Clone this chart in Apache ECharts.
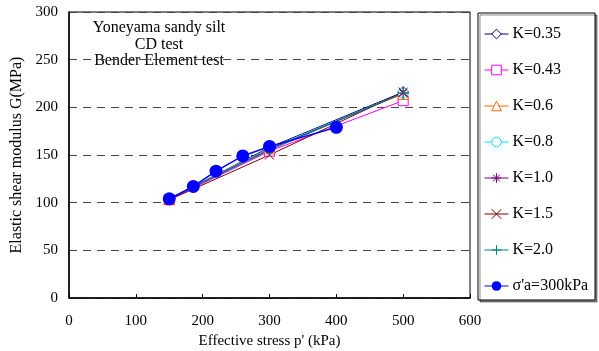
<!DOCTYPE html>
<html>
<head>
<meta charset="utf-8">
<script src="https://cdn.jsdelivr.net/npm/echarts@6/dist/echarts.min.js"></script>
<style>
  html, body { margin: 0; padding: 0; background: #fff; }
  #main { width: 599px; height: 351px; }
</style>
</head>
<body>
<div id="main"></div>
<script>
// K-series share the same stress levels
const kStress = [150, 300, 500];
const k035 = [104, 158, 216];
const k043 = [103, 154, 207];
const k06 = [104, 157, 214];
const k08 = [104, 157, 215];
const k10 = [104, 156, 215];
const k15 = [103, 150, 216];
const k20 = [104, 155, 215];

const saStress = [150, 186, 220, 260, 300, 400];
const sa300 = [104, 117, 133, 149, 159, 179];

const noteLines = ["Yoneyama sandy silt", "CD test", "Bender Element test"];

const serif = "Liberation Serif";

const asterisk = "path://M5 0L5 10M0 5L10 5M1.5 1.5L8.5 8.5M8.5 1.5L1.5 8.5";
const cross = "path://M0 0L10 10M10 0L0 10";
const plus = "path://M5 0L5 10M0 5L10 5";

function pairs(xs, ys) {
  return xs.map((x, i) => [x, ys[i]]);
}

function kSeries(name, color, ys, symbol, size) {
  return {
    name: name,
    type: "line",
    data: pairs(kStress, ys),
    symbol: symbol,
    symbolSize: size,
    color: color,
    lineStyle: { color: color, width: 1 },
    itemStyle: { color: "#fff", borderColor: color, borderWidth: 1 },
    emphasis: { disabled: true },
    z: 3
  };
}

const chart = echarts.init(document.getElementById("main"));

const notes = noteLines.map((t, i) => ({
  type: "text",
  x: 159,
  y: 28 + i * 16.5,
  style: { text: t, font: "16px " + serif, fill: "#000", align: "center", verticalAlign: "middle" }
}));

chart.setOption({
  animation: false,
  textStyle: { fontFamily: serif },
  grid: { left: 69, right: 129, top: 12, bottom: 53, outerBoundsMode: "none", show: true, borderColor: "#000", borderWidth: 1 },
  legend: {
    orient: "vertical",
    left: 480,
    top: 21,
    padding: [5, 4, 5, 4],
    itemGap: 20,
    itemWidth: 24,
    itemHeight: 12,
    lineStyle: { width: 1 },
    itemStyle: { borderWidth: 1 },
    textStyle: { fontFamily: serif, fontSize: 16, color: "#000", padding: [0, 0, 0, -1] },
    data: ["K=0.35", "K=0.43", "K=0.6", "K=0.8", "K=1.0", "K=1.5", "K=2.0", "σ'a=300kPa"]
  },
  graphic: [
    {
      type: "rect",
      shape: { x: 478, y: 13, width: 117, height: 287 },
      style: { fill: "#fff", stroke: "#000", lineWidth: 1, shadowColor: "rgba(0,0,0,0.45)", shadowOffsetX: 2, shadowOffsetY: 2 },
      z: -1
    }
  ].concat(notes),
  xAxis: {
    type: "value",
    min: 0,
    max: 600,
    interval: 100,
    name: "Effective stress p' (kPa)",
    nameLocation: "middle",
    nameGap: 33,
    nameTextStyle: { fontFamily: serif, fontSize: 15, color: "#000" },
    axisLine: { show: true, onZero: false, lineStyle: { color: "#000", width: 1.5 } },
    axisTick: { show: true, inside: true, length: 4, lineStyle: { color: "#000" } },
    axisLabel: { fontFamily: serif, fontSize: 15, color: "#000", margin: 16 },
    splitLine: { show: false }
  },
  yAxis: {
    type: "value",
    min: 0,
    max: 300,
    interval: 50,
    name: "Elastic shear modulus G(MPa)",
    nameLocation: "middle",
    nameGap: 44,
    nameTextStyle: { fontFamily: serif, fontSize: 16, color: "#000" },
    axisLine: { show: true, lineStyle: { color: "#000", width: 1.5 } },
    axisTick: { show: false },
    axisLabel: { fontFamily: serif, fontSize: 15, color: "#000", margin: 11 },
    splitLine: { show: true, lineStyle: { color: "#444", type: [8, 6], width: 1 } }
  },
  series: [
    kSeries("K=0.35", "#000080", k035, "diamond", 11),
    kSeries("K=0.43", "#ff00ff", k043, "rect", 10),
    kSeries("K=0.6", "#ff6600", k06, "triangle", 11),
    kSeries("K=0.8", "#00e5e5", k08, "circle", 10),
    kSeries("K=1.0", "#800080", k10, asterisk, 11),
    kSeries("K=1.5", "#800000", k15, cross, 9),
    kSeries("K=2.0", "#008080", k20, plus, 11),
    {
      name: "σ'a=300kPa",
      type: "line",
      data: pairs(saStress, sa300),
      symbol: "circle",
      symbolSize: 13,
      color: "#0000ff",
      lineStyle: { color: "#0000ff", width: 1.5 },
      itemStyle: { color: "#0000ff" },
      emphasis: { disabled: true },
      z: 4
    }
  ]
});
</script>
</body>
</html>
